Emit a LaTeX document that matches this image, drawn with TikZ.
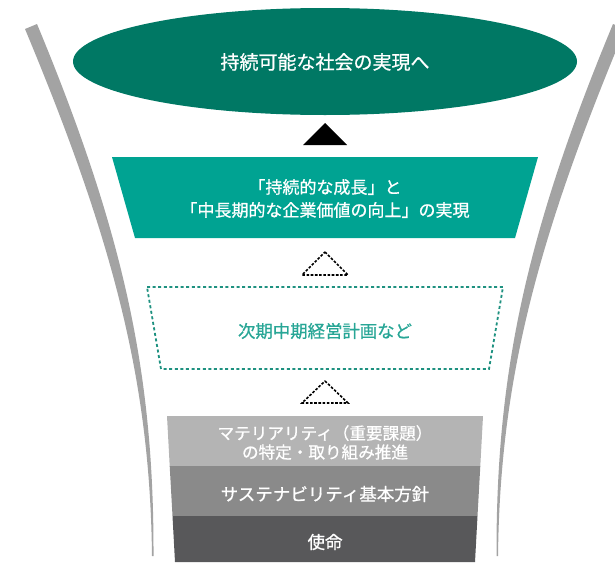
\documentclass[tikz,border=0pt]{standalone}
\usepackage{fontspec}
\setmainfont{Noto Sans CJK JP}[FakeBold=0.8]
\definecolor{ellteal}{RGB}{0,120,100}
\definecolor{boxteal}{RGB}{0,163,146}
\definecolor{dotteal}{RGB}{30,145,128}
\definecolor{txtteal}{RGB}{40,166,150}
\definecolor{curvegrey}{RGB}{163,163,163}
\definecolor{layerA}{RGB}{180,180,180}
\definecolor{layerB}{RGB}{138,138,138}
\definecolor{layerC}{RGB}{88,88,90}
\begin{document}
\begin{tikzpicture}[x=1pt,y=-1pt,
  lbl/.style={inner sep=0pt, align=center, text=white},
  dashtri/.style={draw=black, line width=1.6pt, dash pattern=on 2.6pt off 1.6pt},
  dotbox/.style={draw=dotteal, line width=1.8pt, dash pattern=on 3pt off 2.6pt}]
\useasboundingbox (0,0) rectangle (615,562);
\clip (0,0) rectangle (615,562);
% side curves
\fill[curvegrey] (25,29) .. controls (114,242) and (150,382) .. (152,556)
  -- (153.5,556) .. controls (154,378) and (126,238) .. (37,24) -- cycle;
\fill[curvegrey] (625,29) .. controls (536,242) and (500,382) .. (498,556)
  -- (496.5,556) .. controls (496,378) and (524,238) .. (613,24) -- cycle;
% goal ellipse
\fill[ellteal] (325,61.5) ellipse [x radius=252, y radius=53.5];
\node[lbl, font=\fontsize{19}{23}\selectfont] (goal) at (325,62) {持続可能な社会の実現へ};
% black triangle
\fill[black] (325,123) -- (347,145) -- (303,145) -- cycle;
% teal trapezoid
\fill[boxteal] (112,157) -- (538,157) -- (515,238) -- (135,238) -- cycle;
\node[lbl, font=\fontsize{17}{23}\selectfont] (growth) at (325,198.5)
  {「持続的な成長」と\\「中長期的な企業価値の向上」の実現};
% dashed triangle 1
\draw[dashtri] (325,252) -- (348,275) -- (302,275) -- cycle;
% dotted box
\draw[dotbox] (147,287) -- (503,287) -- (489,369) -- (161,369) -- cycle;
\node[inner sep=0pt, text=txtteal, font=\fontsize{17.4}{21}\selectfont] (plan) at (325,331) {次期中期経営計画など};
% dashed triangle 2
\draw[dashtri] (325,381) -- (348,403) -- (302,403) -- cycle;
% layers
\fill[layerA] (167,416) -- (483,416) -- (480.3,466) -- (169.7,466) -- cycle;
\fill[layerB] (169.7,466) -- (480.3,466) -- (477.5,516) -- (172.5,516) -- cycle;
\fill[layerC] (172.5,516) -- (477.5,516) -- (475,562) -- (175,562) -- cycle;
\node[lbl, font=\fontsize{16.6}{19}\selectfont] (mat) at (325,442.5)
  {マテリアリティ（重要課題）\\の特定・取り組み推進};
\node[lbl, font=\fontsize{17.5}{21}\selectfont] (policy) at (325,494) {サステナビリティ基本方針};
\node[lbl, font=\fontsize{17.5}{21}\selectfont] (mission) at (325,542) {使命};
\end{tikzpicture}
\end{document}
